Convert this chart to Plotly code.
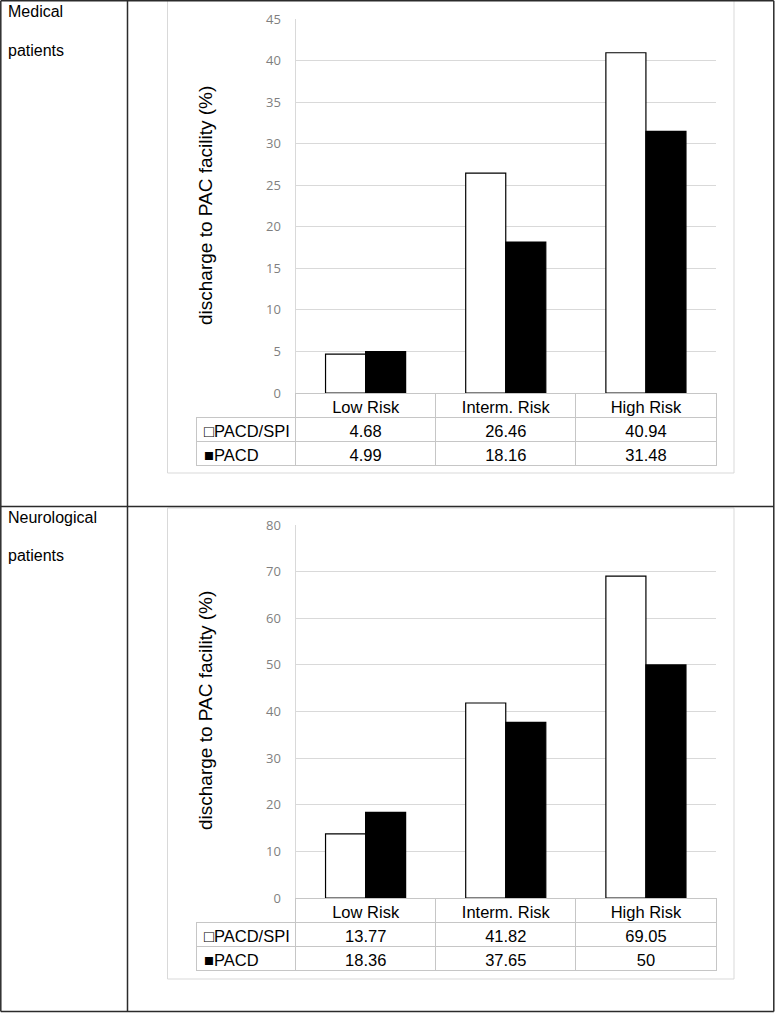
import plotly.graph_objects as go

W, H = 775, 1013

categories = ["Low Risk", "Interm. Risk", "High Risk"]
series_names = ["PACD/SPI", "PACD"]
legend_marks = ["\u25a1", "\u25a0"]

medical_pacd_spi = [4.68, 26.46, 40.94]
medical_pacd = [4.99, 18.16, 31.48]
neuro_pacd_spi = [13.77, 41.82, 69.05]
neuro_pacd = [18.36, 37.65, 50]

medical_ticks = [0, 5, 10, 15, 20, 25, 30, 35, 40, 45]
neuro_ticks = [0, 10, 20, 30, 40, 50, 60, 70, 80]

row_labels = [("Medical", "patients"), ("Neurological", "patients")]
y_title = "discharge to PAC facility (%)"


def fx(px):
    return px / W


def fy(py):
    return 1 - py / H


TXT = "Liberation Sans, Arial, sans-serif"
TICK = "Open Sans, sans-serif"
GRID = "#d9d9d9"
TBL = "#c6c6c6"
CLEAR = "rgba(0,0,0,0)"

fig = go.Figure()

panels = [
    dict(spi=medical_pacd_spi, pacd=medical_pacd, ticks=medical_ticks,
         ytop=19, ybot=393, frame=(-3, 473), xa="x", ya="y", label_y=(11, 50),
         title_y=206),
    dict(spi=neuro_pacd_spi, pacd=neuro_pacd, ticks=neuro_ticks,
         ytop=525, ybot=898, frame=(508, 979), xa="x2", ya="y2",
         label_y=(517, 555), title_y=711),
]

shapes = []
annotations = []

for i, p in enumerate(panels):
    sfx = "" if i == 0 else str(i + 1)
    fig.add_trace(go.Bar(
        x=categories, y=p["spi"], name=series_names[0],
        marker=dict(color="white", line=dict(color="black", width=1.2)),
        xaxis=p["xa"], yaxis=p["ya"], hoverinfo="skip"))
    fig.add_trace(go.Bar(
        x=categories, y=p["pacd"], name=series_names[1],
        marker=dict(color="black", line=dict(color="black", width=1.2)),
        xaxis=p["xa"], yaxis=p["ya"], hoverinfo="skip"))

    fig.update_layout(**{
        "xaxis" + sfx: dict(domain=[fx(295.5), fx(716)], anchor=p["ya"],
                            showticklabels=False, showgrid=False,
                            zeroline=False, showline=False, automargin=False),
        "yaxis" + sfx: dict(domain=[fy(p["ybot"]), fy(p["ytop"])],
                            anchor=p["xa"], automargin=False,
                            range=[p["ticks"][0], p["ticks"][-1]],
                            tickvals=p["ticks"],
                            showgrid=True, gridcolor=GRID, gridwidth=1,
                            zeroline=False, showline=True, linecolor=GRID,
                            linewidth=1,
                            ticks="outside", ticklen=11,
                            tickcolor=CLEAR,
                            tickfont=dict(family=TICK, size=13,
                                          color="#7f7f7f")),
    })

    # data table below the bars
    legend_cells = [m + n for m, n in zip(legend_marks, series_names)]
    fig.add_trace(go.Table(
        domain=dict(x=[fx(196), fx(716)], y=[fy(p["ybot"] + 80), fy(p["ybot"])]),
        columnwidth=[99.5, 140, 140, 140],
        header=dict(values=[""] + categories,
                    fill_color=[CLEAR, "white", "white", "white"],
                    line=dict(color=[CLEAR, TBL, TBL, TBL], width=1),
                    align="center", height=24,
                    font=dict(family=TXT, size=16.5, color="black")),
        cells=dict(values=[legend_cells,
                           [p["spi"][0], p["pacd"][0]],
                           [p["spi"][1], p["pacd"][1]],
                           [p["spi"][2], p["pacd"][2]]],
                   fill_color="white",
                   line=dict(color=TBL, width=1),
                   align=["left", "center", "center", "center"],
                   height=24,
                   font=dict(family=TXT, size=16.5, color="black")),
    ))

    # chart frame
    shapes.append(dict(type="rect", xref="paper", yref="paper",
                       x0=fx(167.5), x1=fx(734), y0=fy(p["frame"][1]),
                       y1=fy(p["frame"][0]),
                       line=dict(color=GRID, width=1), layer="below"))

    annotations.append(dict(text=y_title, textangle=-90, xref="paper",
                            yref="paper", x=fx(205), y=fy(p["title_y"]),
                            showarrow=False, xanchor="center", yanchor="middle",
                            font=dict(family=TXT, size=19, color="black")))
    for line_text, ly in zip(row_labels[i], p["label_y"]):
        annotations.append(dict(text=line_text, xref="paper", yref="paper",
                                x=fx(6), y=fy(ly), xanchor="left",
                                yanchor="middle", align="left", showarrow=False,
                                font=dict(family=TXT, size=16, color="black")))

# outer two-row table
OUT = "#2b2b2b"
for (x0, y0, x1, y1) in [(0.8, 0.8, 773.8, 0.8), (0.8, 0.8, 0.8, 1011.5),
                         (773.8, 0.8, 773.8, 1011.5), (0.8, 1011.5, 773.8, 1011.5),
                         (127.5, 0.8, 127.5, 1011.5), (0.8, 506.5, 773.8, 506.5)]:
    shapes.append(dict(type="line", xref="paper", yref="paper",
                       x0=fx(x0), x1=fx(x1), y0=fy(y0), y1=fy(y1),
                       line=dict(color=OUT, width=1.5)))

fig.update_layout(
    width=W, height=H,
    margin=dict(l=0, r=0, t=0, b=0, pad=0, autoexpand=False),
    paper_bgcolor="white", plot_bgcolor="white",
    barmode="group", bargap=0.4286, bargroupgap=0,
    showlegend=False,
    shapes=shapes, annotations=annotations,
)

fig.write_html("out.html", config={"displayModeBar": False},
               post_script="document.body.style.margin='0';document.body.style.overflow='hidden';")
